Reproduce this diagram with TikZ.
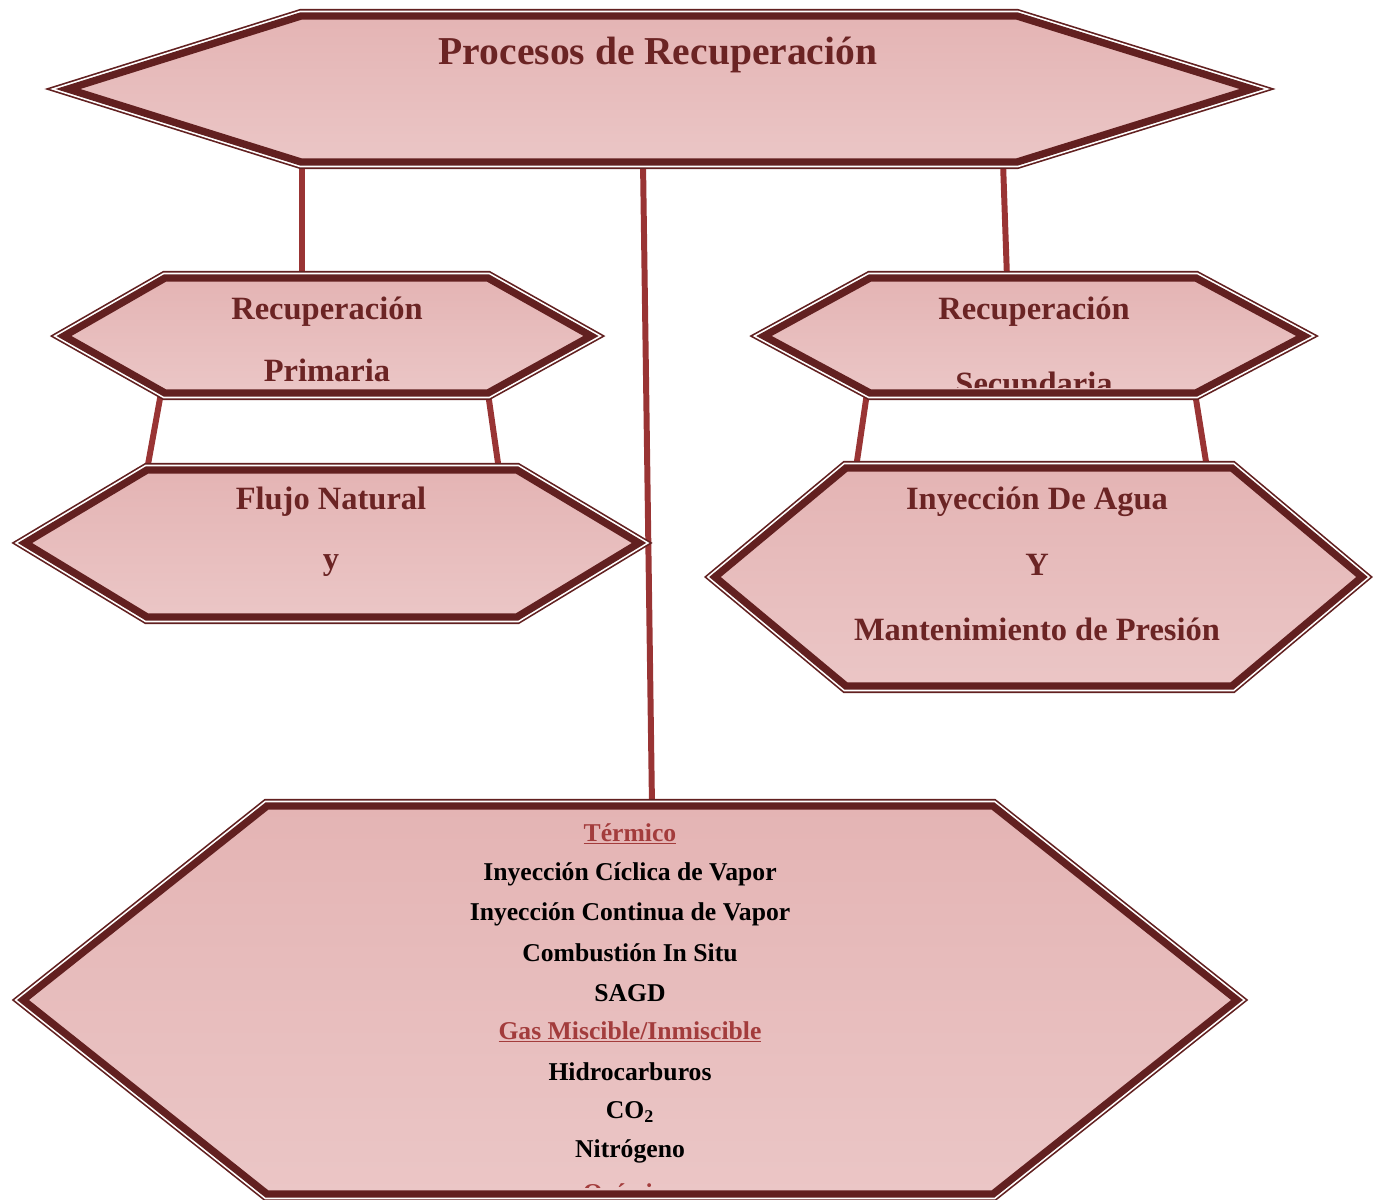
\documentclass[tikz,border=0pt]{standalone}
\usepackage{fontspec}
\setmainfont{Liberation Serif}
\usepackage{xcolor}
\usepackage{tikz}
\usetikzlibrary{positioning}

\definecolor{hexline}{HTML}{622020}
\definecolor{hextop}{HTML}{E4B4B4}
\definecolor{hexbottom}{HTML}{EBC6C6}
\definecolor{linkred}{HTML}{993434}
\definecolor{titlered}{HTML}{6B2424}
\definecolor{headred}{HTML}{A33C3C}

\tikzstyle{hexbox} = [
    line join=miter,
    miter limit=25,
    preaction={draw=hexline, line width=8pt},
    preaction={draw=white, line width=6.1pt},
    preaction={top color=hextop, bottom color=hexbottom},
    draw=hexline,
    line width=4.2pt
]
\tikzstyle{link} = [
    line width=3.4pt,
    linkred
]
\tikzstyle{titletext} = [font=\bfseries\fontsize{22.5}{22.5}\selectfont, text=titlered]
\tikzstyle{headtext} = [font=\bfseries\fontsize{18.5}{18.5}\selectfont, text=titlered]
\tikzstyle{listtext} = [font=\bfseries\fontsize{14.6}{14.6}\selectfont, text=black]
\tikzstyle{listhead} = [font=\bfseries\fontsize{14.6}{14.6}\selectfont, text=headred]

\begin{document}
\begin{tikzpicture}[x=0.02cm, y=-0.02cm]
\useasboundingbox (0,0) rectangle (1377,1200);

% anchor points of the connectors
\coordinate (proc-l) at (302,162);
\coordinate (proc-m) at (643,162);
\coordinate (proc-r) at (1003,162);
\coordinate (prim-t) at (302,278);
\coordinate (prim-bl) at (161,393);
\coordinate (prim-br) at (488,393);
\coordinate (secu-t) at (1007,278);
\coordinate (secu-bl) at (867,393);
\coordinate (secu-br) at (1195,393);
\coordinate (flujo-tl) at (147,470);
\coordinate (flujo-tr) at (499,470);
\coordinate (agua-tl) at (856,468);
\coordinate (agua-tr) at (1207,468);
\coordinate (meth-t) at (652,806);

% connectors
\draw[link] (proc-l) -- (prim-t);
\draw[link] (proc-r) -- (secu-t);
\draw[link] (proc-m) -- (meth-t);
\draw[link] (prim-bl) -- (flujo-tl);
\draw[link] (prim-br) -- (flujo-tr);
\draw[link] (secu-bl) -- (agua-tl);
\draw[link] (secu-br) -- (agua-tr);

% hexagons
\draw[hexbox] (68,89) -- (301,16) -- (1017,16) -- (1252,89) -- (1017,162) -- (301,162) -- cycle;
\draw[hexbox] (64,336) -- (165,278) -- (488,278) -- (591,336) -- (488,393) -- (165,393) -- cycle;
\draw[hexbox] (764,336) -- (870,278) -- (1196,278) -- (1304,336) -- (1196,393) -- (870,393) -- cycle;
\draw[hexbox] (25,543) -- (147,470) -- (517,470) -- (639,543) -- (517,617) -- (147,617) -- cycle;
\draw[hexbox] (715,577) -- (846,468) -- (1232,468) -- (1362,577) -- (1232,686) -- (846,686) -- cycle;
\draw[hexbox] (23,1000) -- (267,806) -- (993,806) -- (1237,1000) -- (993,1194) -- (267,1194) -- cycle;

% texts
\node[titletext] (proc) at (658,55) {Procesos de Recuperación};

\node[headtext] (prim1) at (327,312) {Recuperación};
\node[headtext] (prim2) at (327,370) {Primaria};

\node[headtext] (secu1) at (1034,312) {Recuperación};
\begin{scope}
\clip (870,290) rectangle (1196,387);
\node[headtext] (secu2) at (1034,383) {Secundaria};
\end{scope}

\node[headtext] (flujo1) at (331,502) {Flujo Natural};
\node[headtext] (flujo2) at (331,566) {y};

\node[headtext] (agua1) at (1037,502) {Inyección De Agua};
\node[headtext] (agua2) at (1037,565) {Y};
\node[headtext] (agua3) at (1037,629) {Mantenimiento de Presión};

\node[listhead] (termico) at (630,834) {\underline{Térmico}};
\node[listtext] (ciclica) at (630,874) {Inyección Cíclica de Vapor};
\node[listtext] (continua) at (630,914) {Inyección Continua de Vapor};
\node[listtext] (combust) at (630,953) {Combustión In Situ};
\node[listtext] (sagd) at (630,993) {SAGD};
\node[listhead] (gas) at (630,1032) {\underline{Gas Miscible/Inmiscible}};
\node[listtext] (hidro) at (630,1072) {Hidrocarburos};
\node[listtext] (co2) at (630,1112) {CO\textsubscript{2}};
\node[listtext] (nitro) at (630,1151) {Nitrógeno};
\begin{scope}
\clip (267,1160) rectangle (993,1187);
\node[listhead] (quimico) at (630,1196) {\underline{Químico}};
\end{scope}
\end{tikzpicture}
\end{document}
